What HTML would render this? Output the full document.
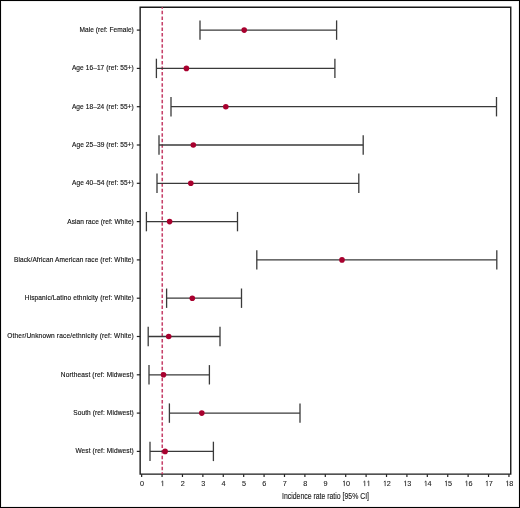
<!DOCTYPE html>
<html><head><meta charset="utf-8"><style>
html,body{margin:0;padding:0;background:#fff;}
body{width:520px;height:508px;overflow:hidden;}
svg{display:block;will-change:transform;}
.lab{font-family:"Liberation Sans",sans-serif;font-size:7.3px;fill:#111;stroke:#111;stroke-width:0.14px;}
.tick{font-family:"Liberation Sans",sans-serif;font-size:7.4px;fill:#222;stroke:#222;stroke-width:0.1px;}
.title{font-family:"Liberation Sans",sans-serif;font-size:9.7px;fill:#1a1a1a;stroke:#1a1a1a;stroke-width:0.14px;}
</style></head><body>
<svg width="520" height="508" viewBox="0 0 520 508">
<rect x="0.5" y="0.5" width="519" height="507" fill="#fff" stroke="#000" stroke-width="1"/>
<rect x="1.5" y="1.5" width="517" height="505" fill="none" stroke="#f0f0f0" stroke-width="1"/>
<path d="M140.15 7.2H510.75V474.15H140.15Z" fill="none" stroke="#1a1a1a" stroke-width="1.4"/>
<line x1="162.25" y1="7.2" x2="162.25" y2="474.15" stroke="#c6416a" stroke-width="1.55" stroke-dasharray="3.5 2.06" stroke-dashoffset="1.91"/>
<line x1="200.0" y1="30.10" x2="336.6" y2="30.10" stroke="#3a3a3a" stroke-width="1.3"/>
<line x1="200.0" y1="20.40" x2="200.0" y2="39.80" stroke="#3a3a3a" stroke-width="1.3"/>
<line x1="336.6" y1="20.40" x2="336.6" y2="39.80" stroke="#3a3a3a" stroke-width="1.3"/>
<circle cx="244.2" cy="30.10" r="2.8" fill="#a8002e"/>
<line x1="136.8" y1="30.10" x2="140.15" y2="30.10" stroke="#222" stroke-width="1.2"/>
<text transform="translate(79.5,32.00) scale(0.9,1)" class="lab" textLength="60.33" lengthAdjust="spacing">Male (ref: Female)</text>
<line x1="156.4" y1="68.40" x2="334.9" y2="68.40" stroke="#3a3a3a" stroke-width="1.3"/>
<line x1="156.4" y1="58.70" x2="156.4" y2="78.10" stroke="#3a3a3a" stroke-width="1.3"/>
<line x1="334.9" y1="58.70" x2="334.9" y2="78.10" stroke="#3a3a3a" stroke-width="1.3"/>
<circle cx="186.4" cy="68.40" r="2.8" fill="#a8002e"/>
<line x1="136.8" y1="68.40" x2="140.15" y2="68.40" stroke="#222" stroke-width="1.2"/>
<text transform="translate(71.9,70.30) scale(0.9,1)" class="lab" textLength="68.78" lengthAdjust="spacing">Age 16–17 (ref: 55+)</text>
<line x1="171.0" y1="106.70" x2="496.5" y2="106.70" stroke="#3a3a3a" stroke-width="1.3"/>
<line x1="171.0" y1="97.00" x2="171.0" y2="116.40" stroke="#3a3a3a" stroke-width="1.3"/>
<line x1="496.5" y1="97.00" x2="496.5" y2="116.40" stroke="#3a3a3a" stroke-width="1.3"/>
<circle cx="225.8" cy="106.70" r="2.8" fill="#a8002e"/>
<line x1="136.8" y1="106.70" x2="140.15" y2="106.70" stroke="#222" stroke-width="1.2"/>
<text transform="translate(71.9,108.60) scale(0.9,1)" class="lab" textLength="68.78" lengthAdjust="spacing">Age 18–24 (ref: 55+)</text>
<line x1="159.0" y1="145.00" x2="363.2" y2="145.00" stroke="#3a3a3a" stroke-width="1.3"/>
<line x1="159.0" y1="135.30" x2="159.0" y2="154.70" stroke="#3a3a3a" stroke-width="1.3"/>
<line x1="363.2" y1="135.30" x2="363.2" y2="154.70" stroke="#3a3a3a" stroke-width="1.3"/>
<circle cx="193.3" cy="145.00" r="2.8" fill="#a8002e"/>
<line x1="136.8" y1="145.00" x2="140.15" y2="145.00" stroke="#222" stroke-width="1.2"/>
<text transform="translate(72.0,146.90) scale(0.9,1)" class="lab" textLength="68.67" lengthAdjust="spacing">Age 25–39 (ref: 55+)</text>
<line x1="157.0" y1="183.30" x2="358.8" y2="183.30" stroke="#3a3a3a" stroke-width="1.3"/>
<line x1="157.0" y1="173.60" x2="157.0" y2="193.00" stroke="#3a3a3a" stroke-width="1.3"/>
<line x1="358.8" y1="173.60" x2="358.8" y2="193.00" stroke="#3a3a3a" stroke-width="1.3"/>
<circle cx="190.8" cy="183.30" r="2.8" fill="#a8002e"/>
<line x1="136.8" y1="183.30" x2="140.15" y2="183.30" stroke="#222" stroke-width="1.2"/>
<text transform="translate(72.0,185.20) scale(0.9,1)" class="lab" textLength="68.67" lengthAdjust="spacing">Age 40–54 (ref: 55+)</text>
<line x1="146.4" y1="221.60" x2="237.5" y2="221.60" stroke="#3a3a3a" stroke-width="1.3"/>
<line x1="146.4" y1="211.90" x2="146.4" y2="231.30" stroke="#3a3a3a" stroke-width="1.3"/>
<line x1="237.5" y1="211.90" x2="237.5" y2="231.30" stroke="#3a3a3a" stroke-width="1.3"/>
<circle cx="169.6" cy="221.60" r="2.8" fill="#a8002e"/>
<line x1="136.8" y1="221.60" x2="140.15" y2="221.60" stroke="#222" stroke-width="1.2"/>
<text transform="translate(67.3,223.50) scale(0.9,1)" class="lab" textLength="73.89" lengthAdjust="spacing">Asian race (ref: White)</text>
<line x1="256.8" y1="259.90" x2="496.8" y2="259.90" stroke="#3a3a3a" stroke-width="1.3"/>
<line x1="256.8" y1="250.20" x2="256.8" y2="269.60" stroke="#3a3a3a" stroke-width="1.3"/>
<line x1="496.8" y1="250.20" x2="496.8" y2="269.60" stroke="#3a3a3a" stroke-width="1.3"/>
<circle cx="342.0" cy="259.90" r="2.8" fill="#a8002e"/>
<line x1="136.8" y1="259.90" x2="140.15" y2="259.90" stroke="#222" stroke-width="1.2"/>
<text transform="translate(14.0,261.80) scale(0.9,1)" class="lab" textLength="133.11" lengthAdjust="spacing">Black/African American race (ref: White)</text>
<line x1="166.6" y1="298.20" x2="241.5" y2="298.20" stroke="#3a3a3a" stroke-width="1.3"/>
<line x1="166.6" y1="288.50" x2="166.6" y2="307.90" stroke="#3a3a3a" stroke-width="1.3"/>
<line x1="241.5" y1="288.50" x2="241.5" y2="307.90" stroke="#3a3a3a" stroke-width="1.3"/>
<circle cx="192.3" cy="298.20" r="2.8" fill="#a8002e"/>
<line x1="136.8" y1="298.20" x2="140.15" y2="298.20" stroke="#222" stroke-width="1.2"/>
<text transform="translate(24.8,300.10) scale(0.9,1)" class="lab" textLength="121.11" lengthAdjust="spacing">Hispanic/Latino ethnicity (ref: White)</text>
<line x1="148.2" y1="336.50" x2="220.0" y2="336.50" stroke="#3a3a3a" stroke-width="1.3"/>
<line x1="148.2" y1="326.80" x2="148.2" y2="346.20" stroke="#3a3a3a" stroke-width="1.3"/>
<line x1="220.0" y1="326.80" x2="220.0" y2="346.20" stroke="#3a3a3a" stroke-width="1.3"/>
<circle cx="168.7" cy="336.50" r="2.8" fill="#a8002e"/>
<line x1="136.8" y1="336.50" x2="140.15" y2="336.50" stroke="#222" stroke-width="1.2"/>
<text transform="translate(7.3,338.40) scale(0.9,1)" class="lab" textLength="140.56" lengthAdjust="spacing">Other/Unknown race/ethnicity (ref: White)</text>
<line x1="149.0" y1="374.80" x2="209.4" y2="374.80" stroke="#3a3a3a" stroke-width="1.3"/>
<line x1="149.0" y1="365.10" x2="149.0" y2="384.50" stroke="#3a3a3a" stroke-width="1.3"/>
<line x1="209.4" y1="365.10" x2="209.4" y2="384.50" stroke="#3a3a3a" stroke-width="1.3"/>
<circle cx="163.5" cy="374.80" r="2.8" fill="#a8002e"/>
<line x1="136.8" y1="374.80" x2="140.15" y2="374.80" stroke="#222" stroke-width="1.2"/>
<text transform="translate(60.8,376.70) scale(0.9,1)" class="lab" textLength="81.11" lengthAdjust="spacing">Northeast (ref: Midwest)</text>
<line x1="169.4" y1="413.10" x2="300.0" y2="413.10" stroke="#3a3a3a" stroke-width="1.3"/>
<line x1="169.4" y1="403.40" x2="169.4" y2="422.80" stroke="#3a3a3a" stroke-width="1.3"/>
<line x1="300.0" y1="403.40" x2="300.0" y2="422.80" stroke="#3a3a3a" stroke-width="1.3"/>
<circle cx="201.8" cy="413.10" r="2.8" fill="#a8002e"/>
<line x1="136.8" y1="413.10" x2="140.15" y2="413.10" stroke="#222" stroke-width="1.2"/>
<text transform="translate(73.2,415.00) scale(0.9,1)" class="lab" textLength="67.33" lengthAdjust="spacing">South (ref: Midwest)</text>
<line x1="150.0" y1="451.40" x2="213.4" y2="451.40" stroke="#3a3a3a" stroke-width="1.3"/>
<line x1="150.0" y1="441.70" x2="150.0" y2="461.10" stroke="#3a3a3a" stroke-width="1.3"/>
<line x1="213.4" y1="441.70" x2="213.4" y2="461.10" stroke="#3a3a3a" stroke-width="1.3"/>
<circle cx="165.1" cy="451.40" r="2.8" fill="#a8002e"/>
<line x1="136.8" y1="451.40" x2="140.15" y2="451.40" stroke="#222" stroke-width="1.2"/>
<text transform="translate(75.4,453.30) scale(0.9,1)" class="lab" textLength="64.89" lengthAdjust="spacing">West (ref: Midwest)</text>
<line x1="141.65" y1="474.15" x2="141.65" y2="477" stroke="#222" stroke-width="1.2"/>
<text transform="translate(141.95,486.1) scale(0.98,1)" class="tick" text-anchor="middle">0</text>
<line x1="162.06" y1="474.15" x2="162.06" y2="477" stroke="#222" stroke-width="1.2"/>
<path d="M161.36 482.00L162.71 480.95V486.1" fill="none" stroke="#333" stroke-width="0.85"/>
<line x1="182.46" y1="474.15" x2="182.46" y2="477" stroke="#222" stroke-width="1.2"/>
<text transform="translate(182.76,486.1) scale(0.98,1)" class="tick" text-anchor="middle">2</text>
<line x1="202.87" y1="474.15" x2="202.87" y2="477" stroke="#222" stroke-width="1.2"/>
<text transform="translate(203.17,486.1) scale(0.98,1)" class="tick" text-anchor="middle">3</text>
<line x1="223.27" y1="474.15" x2="223.27" y2="477" stroke="#222" stroke-width="1.2"/>
<text transform="translate(223.57,486.1) scale(0.98,1)" class="tick" text-anchor="middle">4</text>
<line x1="243.68" y1="474.15" x2="243.68" y2="477" stroke="#222" stroke-width="1.2"/>
<text transform="translate(243.98,486.1) scale(0.98,1)" class="tick" text-anchor="middle">5</text>
<line x1="264.08" y1="474.15" x2="264.08" y2="477" stroke="#222" stroke-width="1.2"/>
<text transform="translate(264.38,486.1) scale(0.98,1)" class="tick" text-anchor="middle">6</text>
<line x1="284.49" y1="474.15" x2="284.49" y2="477" stroke="#222" stroke-width="1.2"/>
<text transform="translate(284.79,486.1) scale(0.98,1)" class="tick" text-anchor="middle">7</text>
<line x1="304.89" y1="474.15" x2="304.89" y2="477" stroke="#222" stroke-width="1.2"/>
<text transform="translate(305.19,486.1) scale(0.98,1)" class="tick" text-anchor="middle">8</text>
<line x1="325.30" y1="474.15" x2="325.30" y2="477" stroke="#222" stroke-width="1.2"/>
<text transform="translate(325.60,486.1) scale(0.98,1)" class="tick" text-anchor="middle">9</text>
<line x1="345.70" y1="474.15" x2="345.70" y2="477" stroke="#222" stroke-width="1.2"/>
<path d="M343.00 482.00L344.35 480.95V486.1" fill="none" stroke="#333" stroke-width="0.85"/>
<text transform="translate(348.00,486.1) scale(0.98,1)" class="tick" text-anchor="middle">0</text>
<line x1="366.11" y1="474.15" x2="366.11" y2="477" stroke="#222" stroke-width="1.2"/>
<path d="M363.41 482.00L364.76 480.95V486.1" fill="none" stroke="#333" stroke-width="0.85"/>
<path d="M367.41 482.00L368.76 480.95V486.1" fill="none" stroke="#333" stroke-width="0.85"/>
<line x1="386.51" y1="474.15" x2="386.51" y2="477" stroke="#222" stroke-width="1.2"/>
<path d="M383.81 482.00L385.16 480.95V486.1" fill="none" stroke="#333" stroke-width="0.85"/>
<text transform="translate(388.81,486.1) scale(0.98,1)" class="tick" text-anchor="middle">2</text>
<line x1="406.91" y1="474.15" x2="406.91" y2="477" stroke="#222" stroke-width="1.2"/>
<path d="M404.21 482.00L405.56 480.95V486.1" fill="none" stroke="#333" stroke-width="0.85"/>
<text transform="translate(409.21,486.1) scale(0.98,1)" class="tick" text-anchor="middle">3</text>
<line x1="427.32" y1="474.15" x2="427.32" y2="477" stroke="#222" stroke-width="1.2"/>
<path d="M424.62 482.00L425.97 480.95V486.1" fill="none" stroke="#333" stroke-width="0.85"/>
<text transform="translate(429.62,486.1) scale(0.98,1)" class="tick" text-anchor="middle">4</text>
<line x1="447.73" y1="474.15" x2="447.73" y2="477" stroke="#222" stroke-width="1.2"/>
<path d="M445.03 482.00L446.38 480.95V486.1" fill="none" stroke="#333" stroke-width="0.85"/>
<text transform="translate(450.03,486.1) scale(0.98,1)" class="tick" text-anchor="middle">5</text>
<line x1="468.13" y1="474.15" x2="468.13" y2="477" stroke="#222" stroke-width="1.2"/>
<path d="M465.43 482.00L466.78 480.95V486.1" fill="none" stroke="#333" stroke-width="0.85"/>
<text transform="translate(470.43,486.1) scale(0.98,1)" class="tick" text-anchor="middle">6</text>
<line x1="488.53" y1="474.15" x2="488.53" y2="477" stroke="#222" stroke-width="1.2"/>
<path d="M485.83 482.00L487.19 480.95V486.1" fill="none" stroke="#333" stroke-width="0.85"/>
<text transform="translate(490.83,486.1) scale(0.98,1)" class="tick" text-anchor="middle">7</text>
<line x1="508.94" y1="474.15" x2="508.94" y2="477" stroke="#222" stroke-width="1.2"/>
<path d="M506.24 482.00L507.59 480.95V486.1" fill="none" stroke="#333" stroke-width="0.85"/>
<text transform="translate(511.24,486.1) scale(0.98,1)" class="tick" text-anchor="middle">8</text>
<text x="282" y="498.6" class="title" textLength="87" lengthAdjust="spacingAndGlyphs">Incidence rate ratio [95% CI]</text>
</svg>
</body></html>
